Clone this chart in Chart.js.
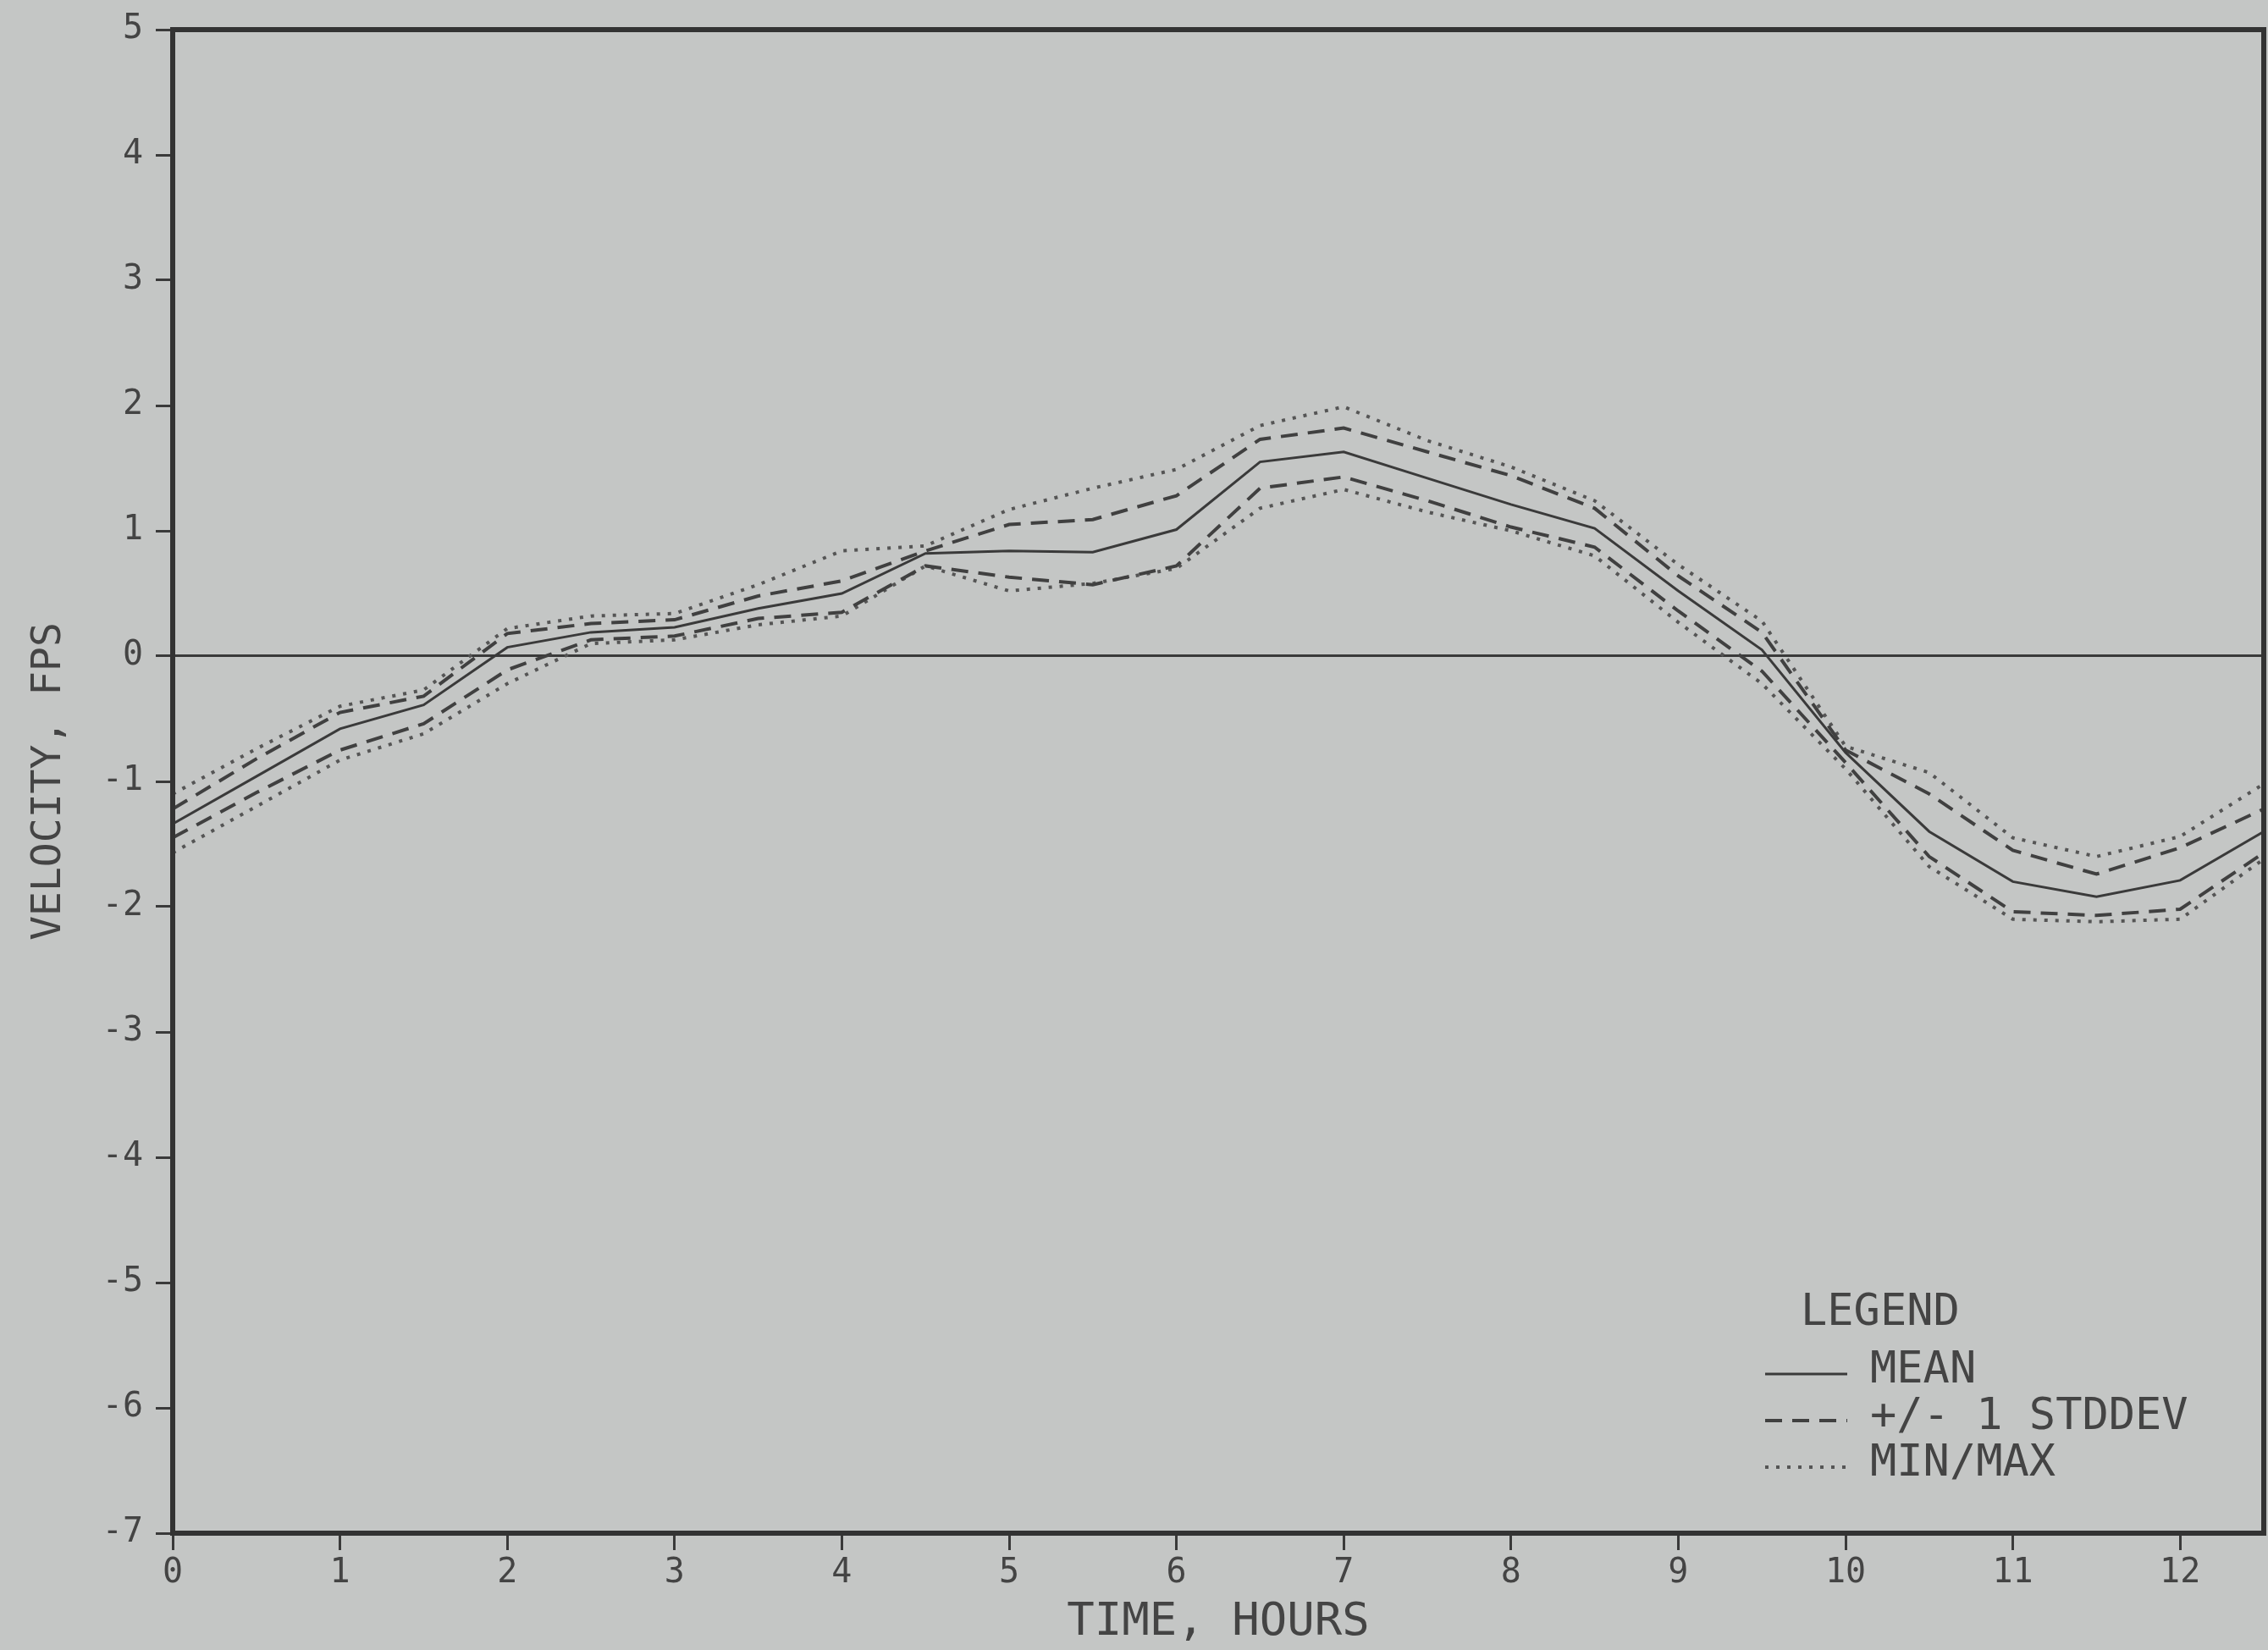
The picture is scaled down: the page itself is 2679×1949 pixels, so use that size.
<!DOCTYPE html>
<html>
<head>
<meta charset="UTF-8" />
<script src="https://cdn.jsdelivr.net/npm/chart.js@4"></script>
<style>
  html, body { margin: 0; padding: 0; background: #c4c6c5; }
  canvas { display: block; }
</style>
</head>
<body>
<canvas id="velocityChart" width="2679" height="1949"></canvas>
<script>
// Velocity record (half-hour steps)
const hours = [0, 0.5, 1, 1.5, 2, 2.5, 3, 3.5, 4, 4.5, 5, 5.5, 6, 6.5, 7, 7.5, 8, 8.5, 9, 9.5, 10, 10.5, 11, 11.5, 12, 12.5];

const meanVel = [-1.34, -0.96, -0.58, -0.39, 0.07, 0.19, 0.23, 0.38, 0.50, 0.82, 0.84, 0.83, 1.01, 1.55, 1.63, 1.42, 1.21, 1.02, 0.52, 0.05, -0.77, -1.40, -1.80, -1.92, -1.79, -1.40];
const plusSd = [-1.22, -0.82, -0.45, -0.32, 0.18, 0.26, 0.29, 0.48, 0.60, 0.84, 1.05, 1.09, 1.28, 1.73, 1.82, 1.63, 1.44, 1.18, 0.64, 0.19, -0.75, -1.10, -1.55, -1.74, -1.53, -1.22];
const minusSd = [-1.45, -1.09, -0.75, -0.54, -0.11, 0.13, 0.16, 0.30, 0.35, 0.72, 0.63, 0.57, 0.72, 1.34, 1.43, 1.24, 1.03, 0.87, 0.36, -0.12, -0.85, -1.60, -2.04, -2.07, -2.02, -1.57];
const maxVel = [-1.10, -0.74, -0.40, -0.27, 0.22, 0.32, 0.34, 0.57, 0.84, 0.88, 1.17, 1.34, 1.49, 1.84, 1.99, 1.72, 1.51, 1.24, 0.73, 0.28, -0.72, -0.93, -1.45, -1.60, -1.44, -1.02];
const minVel = [-1.57, -1.20, -0.83, -0.62, -0.22, 0.10, 0.13, 0.25, 0.32, 0.72, 0.52, 0.58, 0.70, 1.18, 1.33, 1.15, 1.00, 0.80, 0.27, -0.22, -0.90, -1.68, -2.10, -2.12, -2.10, -1.62];

const xTicks = [0, 1, 2, 3, 4, 5, 6, 7, 8, 9, 10, 11, 12];
const yTicks = [-7, -6, -5, -4, -3, -2, -1, 0, 1, 2, 3, 4, 5];

const paper = "#c4c6c5";
const ink = "#3a3a3a";
const mono = "'DejaVu Sans Mono', 'Liberation Mono', monospace";

const toPoints = (arr) => hours.map((h, i) => ({ x: h, y: arr[i] }));

const solid = { borderDash: [], borderWidth: 3, borderColor: ink };
const dashed = { borderDash: [20, 12], borderWidth: 4, borderColor: "#404040" };
const dotted = { borderDash: [4, 9], borderWidth: 4, borderColor: "#555555" };

// Paper colour behind everything
const paperPlugin = {
  id: "paper",
  beforeDraw(chart) {
    const ctx = chart.ctx;
    ctx.save();
    ctx.fillStyle = paper;
    ctx.fillRect(0, 0, chart.width, chart.height);
    ctx.restore();
  },
};

// Heavy frame round the plot area
const framePlugin = {
  id: "frame",
  afterDraw(chart) {
    const { left, top, right, bottom } = chart.chartArea;
    const ctx = chart.ctx;
    ctx.save();
    ctx.strokeStyle = "#333333";
    ctx.lineWidth = 6;
    ctx.setLineDash([]);
    ctx.strokeRect(left, top, right - left, bottom - top);
    ctx.restore();
  },
};

// Legend box in the lower right, as on the plotter sheet
const legendPlugin = {
  id: "plotLegend",
  afterDraw(chart) {
    const { right, bottom } = chart.chartArea;
    const ctx = chart.ctx;
    const x0 = right - 589;
    ctx.save();
    ctx.fillStyle = "#444444";
    ctx.font = "52px " + mono;
    ctx.textBaseline = "middle";
    ctx.textAlign = "left";
    ctx.fillText("LEGEND", x0 + 42, bottom - 260);

    const rows = chart.data.datasets.filter((d) => !d.hideInLegend);
    rows.forEach((d, i) => {
      const cy = bottom - 192 + i * 55;
      ctx.strokeStyle = d.borderColor;
      ctx.lineWidth = d.borderWidth;
      ctx.setLineDash(d.borderDash);
      ctx.beginPath();
      ctx.moveTo(x0, cy + 4);
      ctx.lineTo(x0 + 97, cy + 4);
      ctx.stroke();
      ctx.fillText(d.label, x0 + 124, cy);
    });
    ctx.restore();
  },
};

new Chart(document.getElementById("velocityChart"), {
  type: "line",
  data: {
    datasets: [
      { label: "MEAN", data: toPoints(meanVel), ...solid },
      { label: "+/- 1 STDDEV", data: toPoints(plusSd), ...dashed },
      { label: "+/- 1 STDDEV", data: toPoints(minusSd), ...dashed, hideInLegend: true },
      { label: "MIN/MAX", data: toPoints(maxVel), ...dotted },
      { label: "MIN/MAX", data: toPoints(minVel), ...dotted, hideInLegend: true },
    ].map((d) => ({ ...d, pointRadius: 0, tension: 0, fill: false, borderCapStyle: "butt" })),
  },
  options: {
    animation: false,
    responsive: false,
    devicePixelRatio: 1,
    layout: { padding: { top: 35, right: 5, left: 0, bottom: 0 } },
    plugins: { legend: { display: false }, tooltip: { enabled: false } },
    scales: {
      x: {
        type: "linear",
        min: 0,
        max: 12.5,
        afterBuildTicks: (s) => { s.ticks = xTicks.map((v) => ({ value: v })); },
        afterFit: (s) => { s.height = 138; },
        border: { display: false },
        grid: { drawOnChartArea: false, drawTicks: true, tickLength: 20, tickWidth: 3, tickColor: ink },
        ticks: { color: "#444444", padding: 8, maxRotation: 0, autoSkip: false, font: { family: mono, size: 40, lineHeight: 1 } },
        title: { display: true, text: "TIME, HOURS", color: "#444444", padding: { top: 0, bottom: 5 }, font: { family: mono, size: 54, lineHeight: 1 } },
      },
      y: {
        type: "linear",
        min: -7,
        max: 5,
        afterBuildTicks: (s) => { s.ticks = yTicks.map((v) => ({ value: v })); },
        afterFit: (s) => { s.width = 204; },
        border: { display: false },
        grid: {
          drawOnChartArea: true,
          drawTicks: true,
          tickLength: 20,
          tickWidth: 3,
          tickColor: ink,
          lineWidth: 3,
          color: (c) => (c.tick && c.tick.value === 0 ? ink : "rgba(0,0,0,0)"),
        },
        ticks: { color: "#444444", padding: 15, autoSkip: false, font: { family: mono, size: 40, lineHeight: 1 } },
        title: { display: true, text: "VELOCITY, FPS", color: "#444444", padding: { top: 35, bottom: 0 }, font: { family: mono, size: 48, lineHeight: 1 } },
      },
    },
  },
  plugins: [paperPlugin, framePlugin, legendPlugin],
});
</script>
</body>
</html>
